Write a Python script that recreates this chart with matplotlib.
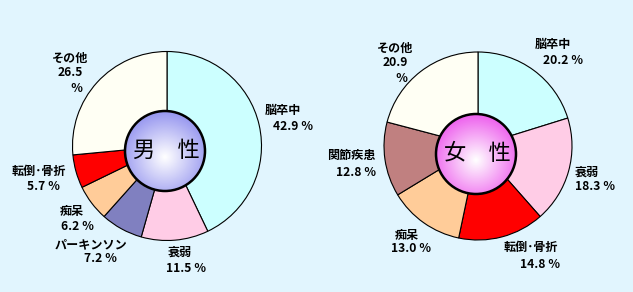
import numpy as np
import matplotlib
matplotlib.use("Agg")
import matplotlib.pyplot as plt
from matplotlib.patches import Circle
from matplotlib.colors import LinearSegmentedColormap

plt.rcParams['font.family'] = ['Noto Sans CJK JP', 'DejaVu Sans']

# ---- data ----
male_labels = ["脳卒中", "衰弱", "パーキンソン", "痴呆", "転倒･骨折", "その他"]
male_values = [42.9, 11.5, 7.2, 6.2, 5.7, 26.5]
male_colors = ["#CCFFFF", "#FFCCE6", "#8080C0", "#FFCC99", "#FF0000", "#FFFFF4"]

female_labels = ["脳卒中", "衰弱", "転倒･骨折", "痴呆", "関節疾患", "その他"]
female_values = [20.2, 18.3, 14.8, 13.0, 12.8, 20.9]
female_colors = ["#CCFFFF", "#FFCCE6", "#FF0000", "#FFCC99", "#C08080", "#FFFFF4"]

titles = ["男　性", "女　性"]

W, H = 633, 292
BG = "#E1F5FE"

fig = plt.figure(figsize=(W / 100, H / 100), dpi=100, facecolor=BG)
ax = fig.add_axes([0, 0, 1, 1])
ax.set_xlim(0, W)
ax.set_ylim(0, H)
ax.set_aspect('equal')
ax.axis('off')
ax.set_facecolor(BG)


def Y(y):
    return H - y


def draw_pie(cx, cy, r, values, colors):
    ax.pie(values, colors=colors, startangle=90, counterclock=False,
           center=(cx, Y(cy)), radius=r, frame=True,
           wedgeprops=dict(edgecolor='black', linewidth=0.8))


def draw_center(cx, cy, r, edge_col, title):
    n = 200
    xs = np.linspace(-1, 1, n)
    X, Yg = np.meshgrid(xs, xs)
    # gradient brightest slightly below centre
    d = np.sqrt(X ** 2 + (Yg + 0.15) ** 2)
    d = np.clip(d / 1.1, 0, 1)
    cmap = LinearSegmentedColormap.from_list("g", ["#FFFFFF", edge_col])
    im = ax.imshow(d, cmap=cmap, extent=(cx - r, cx + r, Y(cy) - r, Y(cy) + r),
                   origin='lower', zorder=5, interpolation='bilinear')
    circ = Circle((cx, Y(cy)), r, facecolor='none', edgecolor='black',
                  linewidth=1.8, zorder=6)
    ax.add_patch(circ)
    im.set_clip_path(circ)
    ax.text(cx + 1, Y(cy - 1), title, fontsize=16, ha='center', va='center',
            zorder=7, color='black')


draw_pie(167, 146, 94.5, male_values, male_colors)
draw_pie(478, 146, 94, female_values, female_colors)
draw_center(165, 151, 40, "#9A9AF0", titles[0])
draw_center(476, 154, 40, "#EE66EE", titles[1])

fs = 8.7
kw = dict(fontsize=fs, fontweight='bold', ha='center', va='center', color='black')

# label positions (name xy, value xy)
male_pos = [((283, 110), (293, 126)),
            ((180, 252), (186, 268)),
            ((91, 245), (101, 259)),
            ((72, 211), (78, 226)),
            ((39, 171), (44, 187)),
            ((70, 58), (70, 73))]
female_pos = [((553, 44), (563, 60)),
              ((587, 172), (595, 187)),
              ((531, 248), (540, 264)),
              ((407, 235), (411, 249)),
              ((351, 155), (356, 172)),
              ((395, 48), (395, 63))]

for labels, values, pos in [(male_labels, male_values, male_pos),
                            (female_labels, female_values, female_pos)]:
    for i, (lab, v, (p1, p2)) in enumerate(zip(labels, values, pos)):
        ax.text(p1[0], Y(p1[1]), lab, **kw)
        if lab == "その他":
            ax.text(p2[0], Y(p2[1]), f"{v:.1f}", **kw)
            ax.text(p2[0] + 6, Y(p2[1] + 15), "％", **kw)
        else:
            ax.text(p2[0], Y(p2[1]), f"{v:.1f} ％", **kw)

fig.savefig("out.png", dpi=100, facecolor=BG)
